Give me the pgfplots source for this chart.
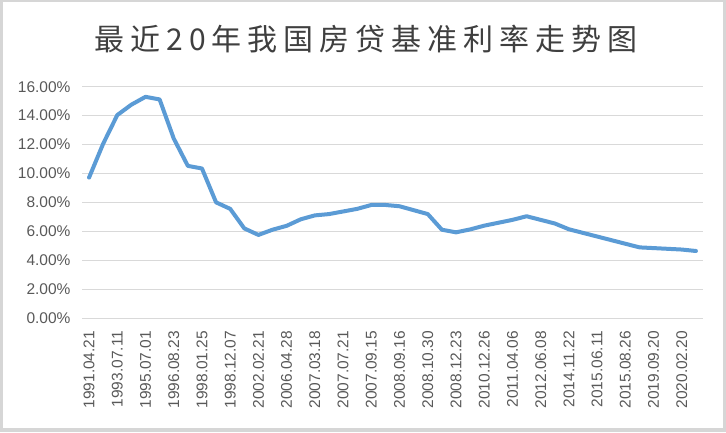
\documentclass[border=0pt]{standalone}
\usepackage{fontspec}
\setmainfont{Liberation Sans}
\newfontfamily\cjk{Noto Sans CJK SC}
\usepackage{pgfplots}
\pgfplotsset{compat=1.18}
\definecolor{gridc}{HTML}{D9D9D9}
\definecolor{tickc}{HTML}{595959}
\definecolor{linec}{HTML}{5B9BD5}
\definecolor{framec}{HTML}{D6D6D6}
\definecolor{titlec}{HTML}{3F3F3F}
\begin{document}
\begin{tikzpicture}[x=1pt,y=1pt]
\useasboundingbox (0,0) rectangle (726,432);
\fill[framec] (0,0) rectangle (726,432);
\fill[white] (3,4) rectangle (722.5,430);
\node[anchor=center, text=titlec, font={\cjk\addfontfeature{LetterSpace=20}\fontsize{30}{34}\selectfont}] at (366,393) {最近20年我国房贷基准利率走势图};
\begin{axis}[
  at={(82pt,113.7pt)}, anchor=south west,
  scale only axis, width=621pt, height=231.6pt,
  xmin=-0.5, xmax=43.5, ymin=0, ymax=16,
  axis line style={draw=none},
  major tick length=0pt,
  ymajorgrids, grid style={gridc, line width=1.3pt},
  ytick={0,2,...,16},
  /pgf/number format/assume math mode=true,
  yticklabel={\pgfmathprintnumber[fixed,fixed zerofill,precision=2]{\tick}\%},
  yticklabel style={font=\fontsize{15.5}{18}\selectfont, text=tickc, xshift=-8pt},
  xtick={0,2,...,42},
  xticklabels={1991.04.21,1993.07.11,1995.07.01,1996.08.23,1998.01.25,1998.12.07,2002.02.21,2006.04.28,2007.03.18,2007.07.21,2007.09.15,2008.09.16,2008.10.30,2008.12.23,2010.12.26,2011.04.06,2012.06.08,2014.11.22,2015.06.11,2015.08.26,2019.09.20,2020.02.20},
  xticklabel style={font=\fontsize{15.5}{18}\selectfont, text=tickc, rotate=90, anchor=east, xshift=-9pt},
]
\addplot[linec, line width=4pt, line join=round, line cap=round] coordinates {
(0,9.72) (1,12.06) (2,14.04) (3,14.76) (4,15.30) (5,15.12) (6,12.42) (7,10.53)
(8,10.35) (9,8.01) (10,7.56) (11,6.21) (12,5.76) (13,6.12) (14,6.39) (15,6.84)
(16,7.11) (17,7.20) (18,7.38) (19,7.56) (20,7.83) (21,7.83) (22,7.74) (23,7.47)
(24,7.20) (25,6.12) (26,5.94) (27,6.14) (28,6.40) (29,6.60) (30,6.80) (31,7.05)
(32,6.80) (33,6.55) (34,6.15) (35,5.90) (36,5.65) (37,5.40) (38,5.15) (39,4.90)
(40,4.85) (41,4.80) (42,4.75) (43,4.65)
};
\end{axis}
\end{tikzpicture}
\end{document}
